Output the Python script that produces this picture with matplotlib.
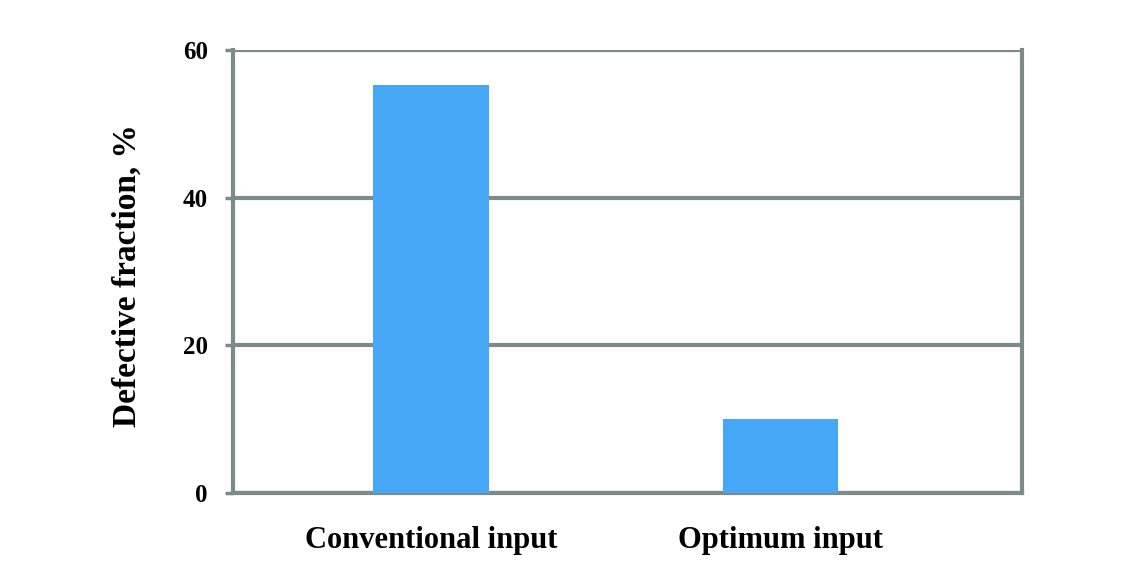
import matplotlib.pyplot as plt

categories = ['Conventional input', 'Optimum input']
defective = [55.2, 10.0]
yticks = [0, 20, 40, 60]

plt.rcParams['font.family'] = ['Liberation Serif', 'DejaVu Serif']
plt.rcParams['font.weight'] = 'bold'

fig = plt.figure(figsize=(11.41, 5.62), dpi=100)
ax = fig.add_axes([0.204, 0.123, 0.692, 0.788])

grid_col = '#7d8a8a'
pos = list(range(len(categories)))
ax.bar(pos, defective, width=0.33, color='#45a7f5', zorder=3)

ax.set_ylim(0, 60)
ax.set_xlim(-0.567, 1.693)
ax.set_yticks(yticks)
ax.set_xticks(pos)
ax.set_xticklabels(categories, fontsize=22, fontweight='bold')
ax.tick_params(axis='y', labelsize=18, length=6, width=2.5, color=grid_col, pad=12)
ax.tick_params(axis='x', length=0, pad=24)
for t in ax.get_yticklabels():
    t.set_fontweight('bold')

# 横向网格线
ax.yaxis.grid(True, color=grid_col, linewidth=3, zorder=1)
ax.set_axisbelow(True)
for side in ['left', 'bottom', 'right']:
    ax.spines[side].set_color(grid_col)
    ax.spines[side].set_linewidth(3)
ax.spines['top'].set_visible(False)

ax.set_ylabel('Defective fraction, %', fontsize=24, fontweight='bold')
ax.yaxis.set_label_coords(-0.114, 0.49)

fig.savefig('out.png', dpi=100)
